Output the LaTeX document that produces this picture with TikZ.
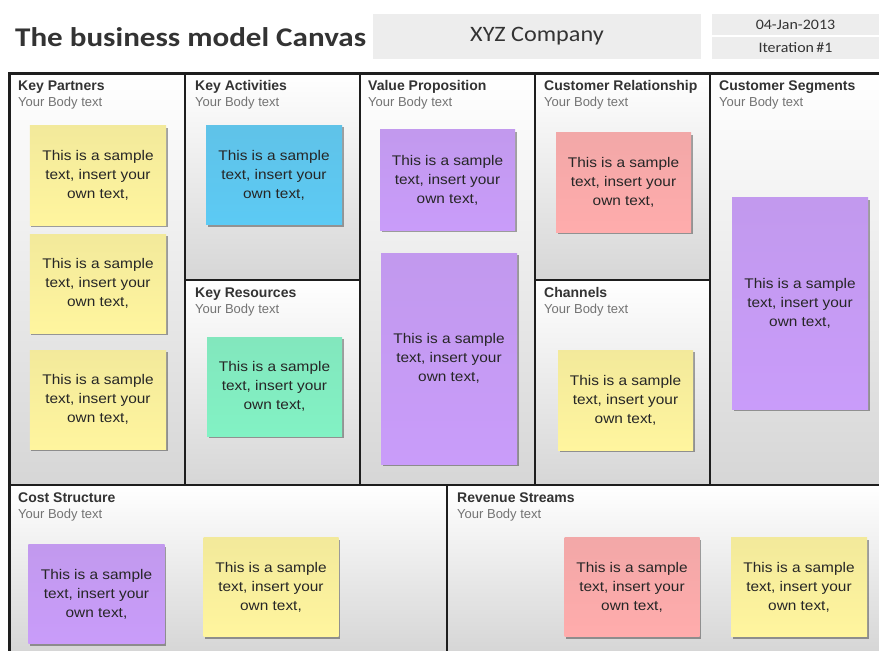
\documentclass[tikz,border=0pt]{standalone}
\usepackage{fontspec}
\setmainfont{Liberation Sans}
\newfontfamily\titlefont{Carlito}[FakeStretch=1.15]
\newfontfamily\capfont{Carlito}[FakeStretch=1.1]
\newfontfamily\notefont{Liberation Sans}[FakeStretch=1.1]
\usetikzlibrary{shadows}
\definecolor{noteyellow}{HTML}{FFF59E}
\definecolor{noteblue}{HTML}{5CCAF4}
\definecolor{notegreen}{HTML}{82F2C4}
\definecolor{notepurple}{HTML}{C99CFA}
\definecolor{notepink}{HTML}{FFACAC}
\definecolor{gridline}{HTML}{1E1E1E}
\definecolor{headbox}{HTML}{EDEDED}
\newcommand{\sampletext}{This is a sample\\text, insert your\\own text,}
\begin{document}
\begin{tikzpicture}[x=1bp,y=-1bp,
  cell/.style={top color=white, bottom color=black!16, draw=none},
  gridrule/.style={draw=gridline, line width=2bp},
  heading/.style={anchor=base west, inner sep=0pt, font=\fontsize{14bp}{16bp}\selectfont\bfseries, text=black!80},
  bodytext/.style={anchor=base west, inner sep=0pt, font=\fontsize{13bp}{15bp}\selectfont, text=black!55},
  note/.style={align=center, inner sep=0pt, top color=#1!90!gray, middle color=#1, bottom color=#1,
    font=\notefont\fontsize{14bp}{19bp}\selectfont, text=black!85,
    drop shadow={shadow xshift=1.5bp, shadow yshift=-2bp, opacity=0.35, fill=black}},
  infobox/.style={fill=headbox, inner sep=0pt, font=\capfont, text=black!80},
]
\useasboundingbox (0,0) rectangle (879,651);
\fill[white] (0,0) rectangle (879,651);

% title block
\node[anchor=base west, inner sep=0pt, font=\titlefont\fontsize{27bp}{30bp}\selectfont\bfseries, text=black!80] (title) at (15,47) {The business model Canvas};
\node[infobox, minimum width=328bp, minimum height=45bp, font=\capfont\fontsize{22bp}{24bp}\selectfont] (company) at (537,36.5) {XYZ Company};
\node[infobox, minimum width=167bp, minimum height=21bp, font=\capfont\fontsize{14.5bp}{16bp}\selectfont] (date) at (795.5,24.5) {04-Jan-2013};
\node[infobox, minimum width=167bp, minimum height=22bp, font=\capfont\fontsize{14.5bp}{16bp}\selectfont] (iter) at (795.5,48) {Iteration\,\#1};

% canvas cells
\fill[cell] (9,74) rectangle (185,485);
\fill[cell] (185,74) rectangle (360,280);
\fill[cell] (185,280) rectangle (360,485);
\fill[cell] (360,74) rectangle (535,485);
\fill[cell] (535,74) rectangle (710,280);
\fill[cell] (535,280) rectangle (710,485);
\fill[cell] (710,74) rectangle (879,485);
\fill[cell] (9,485) rectangle (447,651);
\fill[cell] (447,485) rectangle (879,651);

% grid rules
\draw[gridrule, line width=3bp] (9,651) -- (9,74) -- (879,74);
\draw[gridrule] (185,74) -- (185,485);
\draw[gridrule] (360,74) -- (360,485);
\draw[gridrule] (535,74) -- (535,485);
\draw[gridrule] (710,74) -- (710,485);
\draw[gridrule] (185,280) -- (360,280);
\draw[gridrule] (535,280) -- (710,280);
\draw[gridrule] (9,485) -- (879,485);
\draw[gridrule] (447,485) -- (447,651);

% block headings
\node[heading] (hkp) at (18,91) {Key Partners};
\node[bodytext] (bkp) at (18,107) {Your Body text};
\node[heading] (hka) at (195,91) {Key Activities};
\node[bodytext] (bka) at (195,107) {Your Body text};
\node[heading] (hvp) at (368,91) {Value Proposition};
\node[bodytext] (bvp) at (368,107) {Your Body text};
\node[heading] (hcr) at (544,91) {Customer Relationship};
\node[bodytext] (bcr) at (544,107) {Your Body text};
\node[heading] (hcs) at (719,91) {Customer Segments};
\node[bodytext] (bcs) at (719,107) {Your Body text};
\node[heading] (hkr) at (195,297) {Key Resources};
\node[bodytext] (bkr) at (195,313) {Your Body text};
\node[heading] (hch) at (544,297) {Channels};
\node[bodytext] (bch) at (544,313) {Your Body text};
\node[heading] (hco) at (18,502) {Cost Structure};
\node[bodytext] (bco) at (18,518) {Your Body text};
\node[heading] (hrs) at (457,502) {Revenue Streams};
\node[bodytext] (brs) at (457,518) {Your Body text};

% sticky notes
\node[note=noteyellow, minimum width=136bp, minimum height=99bp] (kp1) at (98,175.5) {\sampletext};
\node[note=noteyellow, minimum width=136bp, minimum height=99bp] (kp2) at (98,283.5) {\sampletext};
\node[note=noteyellow, minimum width=136bp, minimum height=99bp] (kp3) at (98,399.5) {\sampletext};
\node[note=noteblue, minimum width=136bp, minimum height=99bp] (ka) at (274,175) {\sampletext};
\node[note=notegreen, minimum width=135bp, minimum height=99bp] (kr) at (274.5,386.5) {\sampletext};
\node[note=notepurple, minimum width=135bp, minimum height=100bp] (vp1) at (447.5,180) {\sampletext};
\node[note=notepurple, minimum width=136bp, minimum height=211bp] (vp2) at (449,358.5) {\sampletext};
\node[note=notepink, minimum width=135bp, minimum height=99bp] (cr) at (623.5,182.5) {\sampletext};
\node[note=noteyellow, minimum width=135bp, minimum height=100bp] (ch) at (625.5,400) {\sampletext};
\node[note=notepurple, minimum width=136bp, minimum height=211bp] (cs) at (800,303.5) {\sampletext};
\node[note=notepurple, minimum width=136bp, minimum height=99bp] (co1) at (96.5,594) {\sampletext};
\node[note=noteyellow, minimum width=135bp, minimum height=99bp] (co2) at (271,587) {\sampletext};
\node[note=notepink, minimum width=135bp, minimum height=99bp] (rs1) at (632,587) {\sampletext};
\node[note=noteyellow, minimum width=136bp, minimum height=99bp] (rs2) at (799,587) {\sampletext};
\end{tikzpicture}
\end{document}
